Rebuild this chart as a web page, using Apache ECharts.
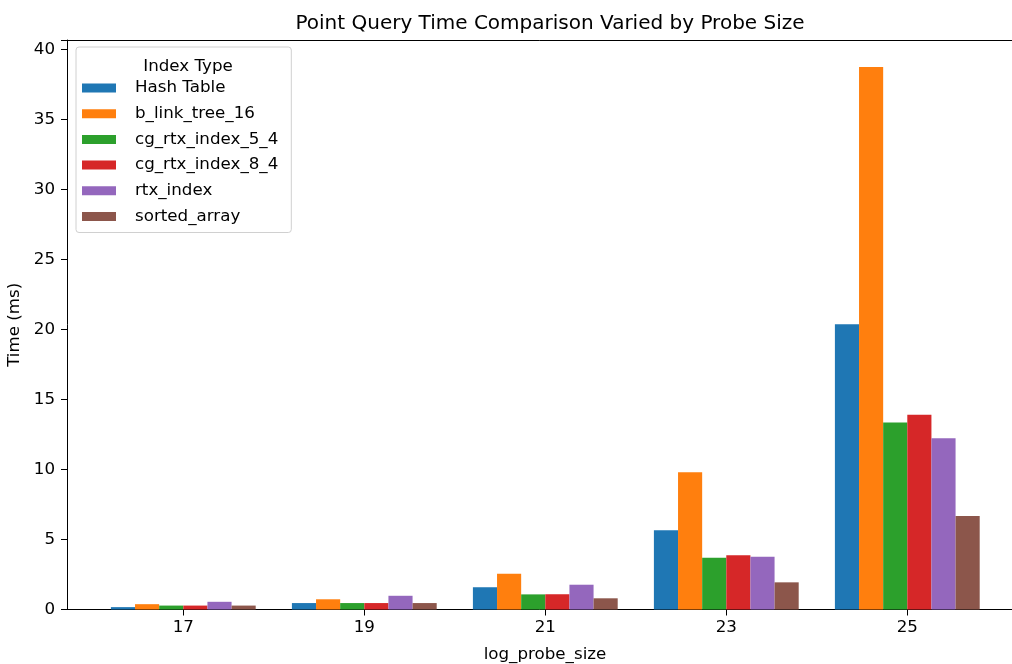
<!DOCTYPE html>
<html>
<head>
<meta charset="utf-8">
<script src="https://cdn.jsdelivr.net/npm/echarts@6/dist/echarts.min.js"></script>
<style>html,body{margin:0;padding:0;background:#fff}#c{width:1012px;height:664px}</style>
</head>
<body>
<div id="c"></div>
<script>
const categories = ['17', '19', '21', '23', '25'];
const seriesNames = ['Hash Table', 'b_link_tree_16', 'cg_rtx_index_5_4', 'cg_rtx_index_8_4', 'rtx_index', 'sorted_array'];
const hashTable = [0.17, 0.46, 1.59, 5.66, 20.37];
const bLinkTree16 = [0.38, 0.73, 2.56, 9.8, 38.76];
const cgRtx54 = [0.28, 0.46, 1.08, 3.7, 13.36];
const cgRtx84 = [0.28, 0.46, 1.09, 3.87, 13.92];
const rtxIndex = [0.55, 0.98, 1.77, 3.77, 12.23];
const sortedArray = [0.28, 0.46, 0.8, 1.94, 6.68];
const yTicks = [0, 5, 10, 15, 20, 25, 30, 35, 40];
const yMax = 40.68;

const values = [hashTable, bLinkTree16, cgRtx54, cgRtx84, rtxIndex, sortedArray];
const colors = ['#1f77b4', '#ff7f0e', '#2ca02c', '#d62728', '#9467bd', '#8c564b'];
const font = 'DejaVu Sans';
const fs = 16.7;

const chart = echarts.init(document.getElementById('c'), null, {renderer: 'canvas'});
chart.setOption({
  animation: false,
  backgroundColor: '#fff',
  textStyle: {fontFamily: font},
  title: [
    {text: 'Point Query Time Comparison Varied by Probe Size', left: 545, top: 9, textAlign: 'center',
     textStyle: {fontFamily: font, fontSize: 20, fontWeight: 'normal', color: '#000'}},
    {text: 'Index Type', left: 183, top: 53, textAlign: 'center',
     textStyle: {fontFamily: font, fontSize: fs, fontWeight: 'normal', color: '#000'}}
  ],
  legend: {
    orient: 'vertical', left: 76, top: 47,
    data: seriesNames,
    icon: 'rect', itemWidth: 34, itemHeight: 9, itemGap: 5.7,
    padding: [31, 13, 6, 6],
    backgroundColor: '#fff', borderColor: '#d0d0d0', borderWidth: 1, borderRadius: 3,
    textStyle: {fontFamily: font, fontSize: fs, color: '#000', padding: [0, 0, 0, 14], lineHeight: 20}
  },
  grid: [
    {left: 67, right: -11, top: 40, bottom: 54.5, containLabel: false, outerBoundsMode: 'none'},
    {left: 92.8, right: 14.2, top: 40, bottom: 54.5, containLabel: false, outerBoundsMode: 'none'}
  ],
  xAxis: [
    {type: 'value', gridIndex: 0, min: 0, max: 1, position: 'bottom',
     axisLine: {show: true, onZero: false, lineStyle: {color: '#000', width: 1}},
     axisTick: {show: false}, axisLabel: {show: false}, splitLine: {show: false},
     name: 'log_probe_size', nameLocation: 'middle', nameGap: 37,
     nameTextStyle: {fontFamily: font, fontSize: fs, color: '#000'}},
    {type: 'value', gridIndex: 0, min: 0, max: 1, position: 'top',
     axisLine: {show: true, onZero: false, lineStyle: {color: '#000', width: 1}},
     axisTick: {show: false}, axisLabel: {show: false}, splitLine: {show: false}},
    {type: 'category', gridIndex: 1, data: categories,
     axisLine: {show: false},
     axisTick: {show: true, alignWithLabel: true, length: 6, lineStyle: {color: '#000'}},
     axisLabel: {fontFamily: font, fontSize: fs, color: '#000', margin: 10}}
  ],
  yAxis: [
    {type: 'value', gridIndex: 0, min: 0, max: yMax, interval: 5,
     axisLine: {show: true, onZero: false, lineStyle: {color: '#000', width: 1}},
     axisTick: {show: true, length: 6, lineStyle: {color: '#000'}},
     axisLabel: {fontFamily: font, fontSize: fs, color: '#000', margin: 12,
       formatter: v => yTicks.includes(v) ? String(v) : ''},
     splitLine: {show: false},
     name: 'Time (ms)', nameLocation: 'middle', nameGap: 38, nameRotate: 90,
     nameTextStyle: {fontFamily: font, fontSize: fs, color: '#000'}},
    {type: 'value', gridIndex: 1, min: 0, max: yMax, show: false}
  ],
  series: seriesNames.map((n, i) => ({
    name: n, type: 'bar', xAxisIndex: 2, yAxisIndex: 1,
    data: values[i], barGap: '0%', barCategoryGap: '20%',
    itemStyle: {color: colors[i]}, z: 1
  }))
});
</script>
</body>
</html>
